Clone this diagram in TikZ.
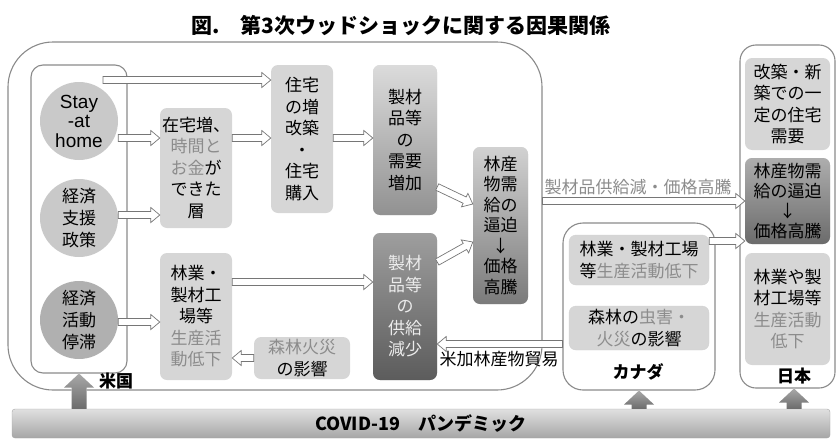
\documentclass[tikz,border=0pt]{standalone}
\usepackage{fontspec}
\setmainfont{Noto Sans CJK JP}
\newfontfamily\hel{Liberation Sans}
\usetikzlibrary{calc}

\definecolor{lgray}{HTML}{D6D6D6}
\definecolor{cgray}{HTML}{C9C9C9}
\definecolor{cdark}{HTML}{B0B0B0}
\definecolor{tgray}{HTML}{8C8C8C}
\definecolor{agray}{HTML}{767676}
\definecolor{fgray}{HTML}{8A8A8A}

\begin{document}
\begin{tikzpicture}[x=1pt, y=-1pt,
    arw/.store in=\arW, arh/.store in=\arH, arl/.store in=\arL,
    arw=3.5pt, arh=7.5pt, arl=9pt,
    hollow/.style={draw=agray, fill=white, line width=0.7pt, to path={
        let \p1=(\tikztostart), \p2=(\tikztotarget),
            \n1={atan2(\y2-\y1,\x2-\x1)}, \n2={veclen(\x2-\x1,\y2-\y1)-\arL}
        in (\p1) -- ++(\n1+90:\arW) -- ++(\n1:{\n2*1pt}) -- ++(\n1+90:\arH-\arW)
        -- (\p2) -- ($(\p2)+(\n1+180:\arL)+(\n1-90:\arH)$)
        -- ++(\n1+90:\arH-\arW) -- ++(\n1+180:{\n2*1pt}) -- cycle}},
    up/.style={hollow, draw=none, arw=7.5pt, arh=15pt, arl=14pt, top color=black!34, bottom color=black!58},
    sz/.style 2 args={minimum width=#1pt, minimum height=#2pt},
    frame/.style={draw=fgray, line width=1.1pt},
    lbox/.style={fill=lgray, rounded corners=7pt, align=center, inner sep=0pt, font=\fontsize{17}{21.5}\selectfont},
    dbox/.style={lbox, top color=black!14, bottom color=black!43},
    sbox/.style={lbox, top color=black!38, bottom color=black!64, text=white!92!black},
    jbox/.style={lbox, top color=black!32, middle color=black!24, bottom color=black!58},
    fctr/.style={circle, fill=cgray, minimum size=78pt, inner sep=0pt, align=center, font=\fontsize{17}{22}\selectfont},
    lbl/.style={font=\bfseries\fontsize{17}{20}\selectfont}
]
    \useasboundingbox (0,0) rectangle (837,439);
    \node[font=\bfseries\fontsize{21}{24}\selectfont] (title) at (401,26) {図.　第3次ウッドショックに関する因果関係};
    % Containers
    \node[frame, rounded corners=45pt, sz={534}{348}] (usa) at (275,216) {};
    \node[frame, rounded corners=12pt, sz={96}{308}] (factors) at (79,219) {};
    \node[frame, rounded corners=20pt, sz={152}{167}] (canada) at (639,306.5) {};
    \node[frame, rounded corners=16pt, sz={95}{343}] (japan) at (787.5,216.5) {};
    \node[draw=gray!70, rounded corners=3pt, top color=black!12, bottom color=black!35, sz={818}{29},
          font=\bfseries\fontsize{18}{20}\selectfont] (covid) at (421,423.5) {COVID-19　パンデミック};
    % USA
    \node[fctr, font=\hel\fontsize{19}{19.5}\selectfont] (stay) at (79,121) {Stay\\-at\\home};
    \node[fctr] (support) at (79,218) {経済\\支援\\政策};
    \node[fctr, fill=cdark] (stag) at (79,320) {経済\\活動\\停滞};
    \node[lbox, sz={72}{120}] (zaitaku) at (196,168) {在宅増、\\\textcolor{tgray}{時間と}\\\textcolor{tgray}{お金}が\\できた\\層};
    \node[lbox, sz={72}{127}] (ringyo) at (196,316.5) {林業・\\製材工\\場等\\\textcolor{tgray}{生産活}\\\textcolor{tgray}{動低下}};
    \node[lbox, sz={96}{42}, font=\fontsize{17}{22}\selectfont] (fire) at (302,358) {\textcolor{tgray}{森林火災}\\の影響};
    \node[lbox, sz={62}{148}] (jutaku) at (302,139) {住宅\\の増\\改築\\・\\住宅\\購入};
    \node[dbox, sz={64}{150}] (demand) at (405,140) {製材\\品等\\の\\需要\\増加};
    \node[sbox, sz={64}{147}] (supply) at (405,306.5) {製材\\品等\\の\\供給\\減少};
    \node[dbox, top color=black!18, bottom color=black!52, sz={55}{157}, font=\fontsize{17}{20.5}\selectfont] (tight) at (500.5,225.5) {林産\\物需\\給の\\逼迫\\↓\\価格\\高騰};
    % Canada
    \node[lbox, draw=gray!35, sz={140}{50}] (cafact) at (639,260) {林業・製材工場\\等\textcolor{tgray}{生産活動低下}};
    \node[lbox, draw=gray!35, sz={140}{44}] (capest) at (639,328) {森林の\textcolor{tgray}{虫害・}\\\textcolor{tgray}{火災}の影響};
    % Japan
    \node[lbox, sz={85}{92}] (jpdemand) at (787.5,104) {改築・新\\築での一\\定の住宅\\需要};
    \node[jbox, sz={85}{86}, font=\fontsize{17}{20}\selectfont] (jptight) at (787.5,201) {林産物需\\給の逼迫\\↓\\価格高騰};
    \node[lbox, sz={85}{112}] (jpfact) at (787.5,309) {林業や製\\材工場等\\\textcolor{tgray}{生産活動}\\\textcolor{tgray}{低下}};
    % Labels
    \node[lbl] (uslbl) at (116,381) {米国};
    \node[lbl] (calbl) at (638,372) {カナダ};
    \node[lbl] (jplbl) at (794,376) {日本};
    \node[font=\fontsize{17}{20}\selectfont, text=tgray] (flowlbl) at (638,187) {製材品供給減・価格高騰};
    \node[font=\fontsize{17}{20}\selectfont] (tradelbl) at (499,359) {米加林産物貿易};
    % Arrows
    \coordinate (stayout) at (103,80);
    \draw[hollow] (stayout) to (jutaku.west |- stayout);
    \foreach \a/\b/\yy in {stay/zaitaku/138, support/zaitaku/215, stag/ringyo/322,
                           zaitaku/jutaku/138, jutaku/demand/138, ringyo/supply/282} {
        \draw[hollow] (\a.east |- 0,\yy) to (\b.west |- 0,\yy);
    }
    \draw[hollow] (fire.west) to (ringyo.east |- fire.west);
    \draw[hollow] (demand.east |- 0,187) to (tight.west |- 0,204);
    \draw[hollow] (supply.east |- 0,262) to (tight.west |- 0,242);
    \draw[hollow] (usa.east |- 0,201) to (jptight.west |- 0,201);
    \draw[hollow] (cafact.east |- 0,241) to (jptight.west |- 0,241);
    \draw[hollow] (canada.west |- 0,344) to (supply.east |- 0,344);
    % COVID-19
    \draw[up] (covid.north -| factors.south) to (factors.south);
    \draw[up] (covid.north -| canada.south) to (canada.south);
    \draw[up] (covid.north -| jplbl) to (jplbl |- japan.south);
\end{tikzpicture}
\end{document}
